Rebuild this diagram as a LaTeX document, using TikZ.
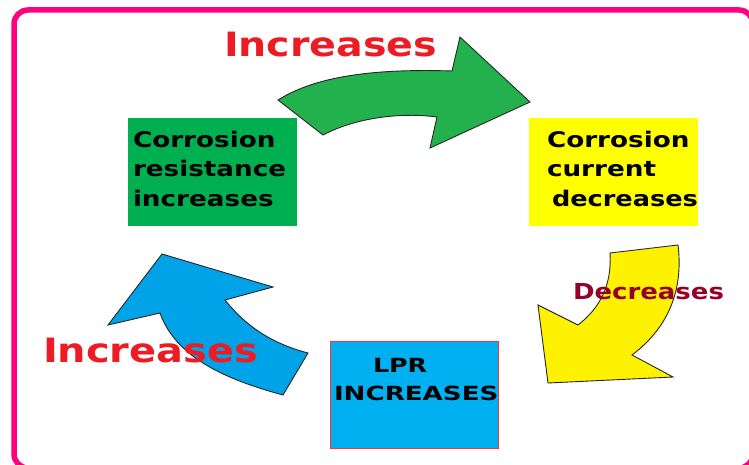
\documentclass[tikz,border=0pt]{standalone}
\usepackage{fontspec}
\usepackage{graphicx}
\setmainfont{DejaVu Sans}
\definecolor{frame}{RGB}{255,0,128}
\definecolor{boxgreen}{RGB}{0,176,80}
\definecolor{boxyellow}{RGB}{255,255,0}
\definecolor{boxblue}{RGB}{0,176,240}
\definecolor{arrgreen}{RGB}{34,177,76}
\definecolor{arryellow}{RGB}{255,242,0}
\definecolor{arrblue}{RGB}{0,162,232}
\definecolor{txtred}{RGB}{237,28,36}
\definecolor{txtdark}{RGB}{150,0,40}
\newcommand\hstr[2]{\scalebox{#1}[1]{#2}}
\tikzset{
  lbl/.style={anchor=base west, inner sep=0pt, outer sep=0pt},
  boxtxt/.style={lbl, font=\fontsize{21.5}{24}\selectfont\bfseries, text=black},
  lprtxt/.style={lbl, font=\fontsize{19.5}{22}\selectfont\bfseries, text=black},
  bigred/.style={lbl, font=\fontsize{33.5}{36}\selectfont\bfseries, text=txtred},
  arrowshape/.style={draw=black!85, line width=0.9pt, line join=miter}
}
\begin{document}
\begin{tikzpicture}[x=1pt,y=-1pt]
\clip (0,0) rectangle (749,465);
\fill[white] (0,0) rectangle (749,465);
% frame
\draw[frame, line width=5.5pt, rounded corners=14pt] (14,10) rectangle (753,468);
% boxes
\path[fill=boxgreen] (128,118) rectangle (297,226);
\path[fill=boxyellow] (529,118) rectangle (698,226);
\path[fill=boxblue, draw=red!80, line width=0.7pt] (330,341) rectangle (498,448);
% arrows
\path[fill=arrgreen, arrowshape] (530,102) -- (460,37) -- (452,71)
  .. controls (360,68) and (310,80) .. (278,100) -- (323,135)
  .. controls (355,118) and (400,112) .. (437,117) -- (430,148) -- cycle;
\path[fill=arryellow, arrowshape] (610,253) -- (678,245)
  .. controls (683,285) and (672,325) .. (632,355) -- (673,377) -- (548,383)
  -- (538,305) -- (578,325) .. controls (600,308) and (612,285) .. (610,253) -- cycle;
\path[fill=arrblue, arrowshape] (162,254) -- (273,287) -- (225,300)
  .. controls (245,325) and (270,343) .. (308,353) -- (283,395)
  .. controls (220,378) and (175,355) .. (160,313) -- (108,325) -- cycle;
% box texts
\node[boxtxt] (g1) at (133,148) {\hstr{1.22}{Corrosion}};
\node[boxtxt] (g2) at (133,177) {\hstr{1.22}{resistance}};
\node[boxtxt] (g3) at (133,206) {\hstr{1.22}{increases}};
\node[boxtxt] (y1) at (547,148) {\hstr{1.22}{Corrosion}};
\node[boxtxt] (y2) at (547,177) {\hstr{1.22}{current}};
\node[boxtxt] (y3) at (552,206) {\hstr{1.19}{decreases}};
\node[lprtxt] (b1) at (373,372) {\hstr{1.30}{LPR}};
\node[lprtxt] (b2) at (334,400) {\hstr{1.34}{INCREASES}};
% arrow labels
\node[bigred] (inctop) at (224,57) {\hstr{1.18}{Increases}};
\node[bigred] (incbot) at (43,362) {\hstr{1.19}{Increases}};
\node[lbl, font=\fontsize{22}{26}\selectfont\bfseries, text=txtdark] (dec) at (573,299) {\hstr{1.18}{Decreases}};
\end{tikzpicture}
\end{document}
